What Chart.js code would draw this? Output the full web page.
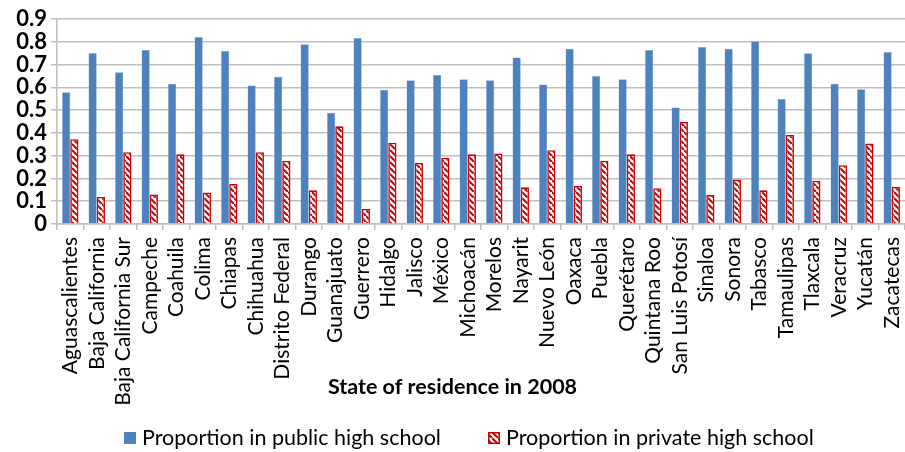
<!DOCTYPE html>
<html>
<head>
<meta charset="utf-8">
<script src="https://cdn.jsdelivr.net/npm/chart.js@4/dist/chart.umd.min.js"></script>
<style>
  html, body { margin: 0; padding: 0; background: #fff; }
  #wrap { width: 905px; height: 452px; }
</style>
</head>
<body>
<div id="wrap"><canvas id="c" width="905" height="452"></canvas></div>
<script>
const categories = ["Aguascalientes","Baja California","Baja California Sur","Campeche","Coahuila","Colima","Chiapas","Chihuahua","Distrito Federal","Durango","Guanajuato","Guerrero","Hidalgo","Jalisco","México","Michoacán","Morelos","Nayarit","Nuevo León","Oaxaca","Puebla","Querétaro","Quintana Roo","San Luis Potosí","Sinaloa","Sonora","Tabasco","Tamaulipas","Tlaxcala","Veracruz","Yucatán","Zacatecas"];
const publicValues = [0.578,0.751,0.666,0.764,0.616,0.821,0.760,0.608,0.646,0.789,0.488,0.817,0.589,0.631,0.654,0.635,0.631,0.731,0.612,0.769,0.650,0.635,0.764,0.512,0.777,0.769,0.801,0.549,0.750,0.616,0.592,0.755];
const privateValues = [0.372,0.119,0.315,0.129,0.306,0.138,0.176,0.315,0.277,0.148,0.429,0.066,0.357,0.268,0.291,0.306,0.310,0.161,0.324,0.167,0.277,0.306,0.157,0.448,0.127,0.195,0.148,0.391,0.190,0.258,0.353,0.163];
const yTickLabels = ["0","0.1","0.2","0.3","0.4","0.5","0.6","0.7","0.8","0.9"];
const seriesNames = ["Proportion in public high school","Proportion in private high school"];
const axisTitle = "State of residence in 2008";

const BLUE = '#4F81BD';
const RED = '#CC0000';
const FONT = 'Lato, "Open Sans", sans-serif';

function makeHatch() {
  const s = 6;
  const cv = document.createElement('canvas');
  cv.width = s; cv.height = s;
  const g = cv.getContext('2d');
  g.fillStyle = '#fff';
  g.fillRect(0, 0, s, s);
  g.strokeStyle = RED;
  g.lineWidth = 2;
  g.beginPath();
  g.moveTo(0, 0); g.lineTo(s, s);
  g.moveTo(-s, 0); g.lineTo(0, s);
  g.moveTo(s, -s); g.lineTo(2 * s, s);
  g.stroke();
  return g.createPattern(cv, 'repeat');
}
const hatch = makeHatch();

const customDecor = {
  id: 'customDecor',
  afterDraw(chart) {
    const ctx = chart.ctx;
    const W = chart.width;
    ctx.save();
    // axis title
    ctx.fillStyle = '#000';
    ctx.font = 'bold 21.5px ' + FONT;
    ctx.textAlign = 'center';
    ctx.textBaseline = 'middle';
    ctx.fillText(axisTitle, W / 2, 387);
    // legend
    ctx.font = '21.5px ' + FONT;
    ctx.textAlign = 'left';
    const ly = 438;
    const box = 12;
    const items = [
      { x: 124, fill: BLUE, stroke: null },
      { x: 488, fill: hatch, stroke: RED }
    ];
    items.forEach((it, i) => {
      ctx.fillStyle = it.fill;
      ctx.fillRect(it.x, ly - box / 2, box, box);
      if (it.stroke) {
        ctx.strokeStyle = it.stroke;
        ctx.lineWidth = 1.5;
        ctx.strokeRect(it.x + 0.75, ly - box / 2 + 0.75, box - 1.5, box - 1.5);
      }
      ctx.fillStyle = '#000';
      ctx.fillText(seriesNames[i], it.x + box + 6, ly);
    });
    ctx.restore();
  }
};

new Chart(document.getElementById('c'), {
  type: 'bar',
  data: {
    labels: categories,
    datasets: [
      {
        label: seriesNames[0],
        data: publicValues,
        backgroundColor: BLUE,
        borderColor: 'rgba(120,160,210,0.9)',
        borderWidth: 0.5,
        categoryPercentage: 0.62,
        barPercentage: 1.0
      },
      {
        label: seriesNames[1],
        data: privateValues,
        backgroundColor: hatch,
        borderColor: RED,
        borderWidth: 1.6,
        categoryPercentage: 0.62,
        barPercentage: 1.0
      }
    ]
  },
  options: {
    responsive: false,
    animation: false,
    devicePixelRatio: 1,
    layout: { padding: { top: 19, right: -3, bottom: 0, left: 0 } },
    plugins: {
      legend: { display: false },
      tooltip: { enabled: false },
      title: { display: false }
    },
    scales: {
      x: {
        offset: true,
        grid: {
          display: true,
          offset: true,
          drawOnChartArea: false,
          drawTicks: true,
          tickLength: 6,
          color: '#BFBFBF',
          lineWidth: 1.5
        },
        border: { display: true, color: '#BFBFBF', width: 1.5 },
        ticks: {
          autoSkip: false,
          minRotation: 90,
          maxRotation: 90,
          padding: 7,
          color: '#000',
          font: { family: FONT, size: 21 }
        },
        afterFit(scale) {
          scale.height = 228;
          scale.paddingLeft = 0;
          scale.paddingRight = 0;
        }
      },
      y: {
        min: 0,
        max: 0.9,
        grid: {
          color: '#BFBFBF',
          lineWidth: 1.5,
          drawTicks: true,
          tickLength: 6
        },
        border: { display: true, color: '#BFBFBF', width: 1.5 },
        ticks: {
          stepSize: 0.1,
          autoSkip: false,
          padding: 4,
          color: '#000',
          font: { family: FONT, size: 22, weight: 'bold' },
          callback: (v, i) => yTickLabels[i]
        },
        afterFit(scale) { scale.width = 57; }
      }
    }
  },
  plugins: [customDecor]
});
</script>
</body>
</html>
